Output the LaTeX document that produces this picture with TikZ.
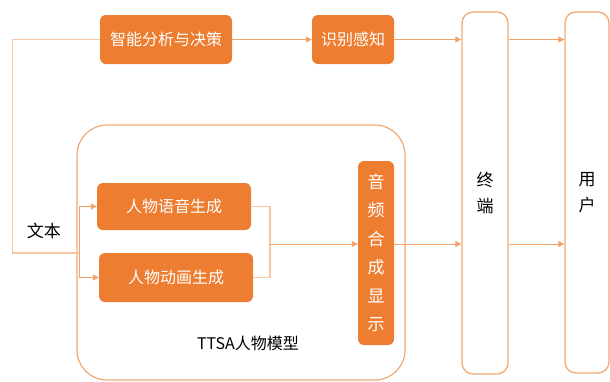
\documentclass[tikz,border=0pt]{standalone}
\usepackage{fontspec}
\setmainfont{Noto Sans CJK SC}
\usetikzlibrary{arrows.meta}
\definecolor{fillO}{HTML}{ED7D31}
\definecolor{lineO}{HTML}{F2A36B}
\definecolor{lineL}{HTML}{F8C6A2}
\definecolor{edgeO}{HTML}{F3A870}
\begin{document}
\begin{tikzpicture}[x=1pt,y=-1pt,
  obox/.style={draw=none,fill=fillO,rounded corners=6pt,text=white,inner sep=0pt,
    font=\fontsize{16}{19}\selectfont},
  tallbox/.style={draw=edgeO,line width=1.3pt,rounded corners=11pt,inner sep=0pt,
    align=center,font=\fontsize{17}{26}\selectfont},
  arr/.style={draw=lineO,line width=1pt,-{Triangle[length=6pt,width=6pt]}},
  ln/.style={draw=lineL,line width=1.2pt}]
\useasboundingbox (0,0) rectangle (610,381);
% TTSA container
\node[draw=edgeO,line width=1.2pt,rounded corners=30pt,minimum width=328pt,minimum height=255pt,inner sep=0pt] (ttsa) at (241,252.5) {};
\node[font=\fontsize{16}{19}\selectfont] (ttsalbl) at (248,343) {TTSA人物模型};
% top boxes
\node[obox,minimum width=132pt,minimum height=49pt] (ai) at (166,39.5) {智能分析与决策};
\node[obox,minimum width=82pt,minimum height=49pt] (rec) at (353,39.5) {识别感知};
% tall boxes
\node[tallbox,minimum width=46pt,minimum height=362pt] (term) at (485,193) {终\\端};
\node[tallbox,minimum width=44pt,minimum height=361pt] (user) at (587,192.5) {用\\户};
% inner boxes
\node[obox,minimum width=154pt,minimum height=47pt] (voice) at (174,206.5) {人物语音生成};
\node[obox,minimum width=154pt,minimum height=49pt] (anim) at (176,277.5) {人物动画生成};
\node[obox,minimum width=36pt,minimum height=184pt,align=center,
  font=\fontsize{17}{28.4}\selectfont] (syn) at (376,253) {音\\频\\合\\成\\显\\示};
% text label
\node[font=\fontsize{17}{20}\selectfont] (txt) at (44,231) {文本};
% connectors
\coordinate (split) at (79,253);
\coordinate (merge) at (270,244);
\draw[ln] (ai.west) -- ++(-87,0) |- (split);
\draw[arr] (split) |- (voice.west);
\draw[arr] (split) |- (anim.west);
\draw[ln] (voice.east) -| (merge);
\draw[ln] (anim.east) -| (merge);
\draw[arr] (merge) -- (syn.west |- merge);
\draw[arr] (ai.east) -- (rec.west);
\draw[arr] (rec.east) -- (term.west |- rec.east);
\draw[arr] (term.east |- rec.east) -- (user.west |- rec.east);
\draw[arr] (syn.east |- merge) -- (term.west |- merge);
\draw[arr] (term.east |- merge) -- (user.west |- merge);
\end{tikzpicture}
\end{document}
